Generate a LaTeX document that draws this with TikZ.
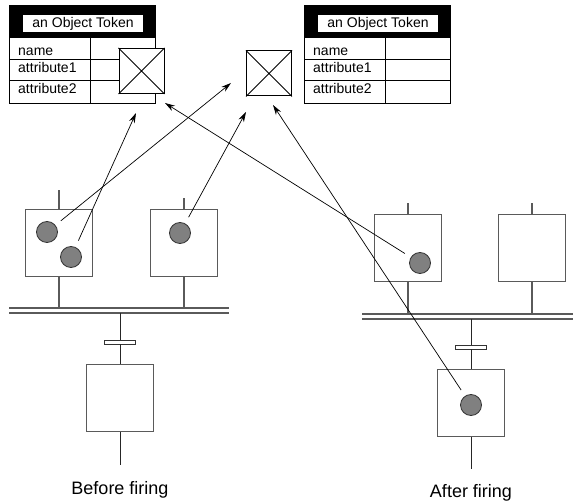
\documentclass[tikz,border=0pt]{standalone}
\usepackage{fontspec}
\setmainfont{Liberation Sans}
\usepackage{tikz}
\usepackage{xcolor}
\usetikzlibrary{arrows.meta}
\definecolor{netgray}{RGB}{90,90,90}
\definecolor{tokgray}{RGB}{128,128,128}

\begin{document}
\begin{tikzpicture}[x=1pt,y=-1pt,>=Stealth,
  place/.style={draw=netgray,line width=1.1pt,fill=white,minimum width=67pt,minimum height=67pt,inner sep=0pt},
  token/.style={circle,draw=black!80,line width=0.8pt,fill=tokgray,minimum size=21pt,inner sep=0pt},
  trans/.style={draw=black!80,line width=0.8pt,fill=white,minimum width=31pt,minimum height=4pt,inner sep=0pt},
  arc/.style={draw=netgray,line width=1.1pt},
  tarc/.style={draw=black!85,line width=0.9pt},
  xbox/.style={draw,line width=1pt,fill=white,minimum size=45pt,inner sep=0pt},
  ptr/.style={-{Stealth[length=10pt,width=6pt]},line width=0.7pt,shorten <=7pt},
  field/.style={anchor=base west,font=\fontsize{14}{16}\selectfont,inner sep=0pt},
  caption/.style={anchor=base,font=\fontsize{18}{20}\selectfont,inner sep=0pt}]
\useasboundingbox (0,0) rectangle (573,502);
\foreach \t/\x in {A/9,B/304}{
  \node[draw,fill=black,line width=1pt,minimum width=146pt,minimum height=32pt,inner sep=0pt,anchor=north west] (head\t) at (\x,5) {};
  \node[fill=white,minimum width=120pt,minimum height=17pt,inner sep=0pt,font=\fontsize{14}{16}\selectfont] (title\t) at (\x+74,23.5) {an Object Token};
  \node[draw,line width=1pt,minimum width=146pt,minimum height=66pt,inner sep=0pt,anchor=north west] (body\t) at (\x,37) {};
  \draw[line width=1pt] (\x,60)--++(146,0) (\x,81)--++(146,0) (\x+81,37)--(\x+81,103);
  \node[field] (name\t) at (\x+9,56) {name};
  \node[field] (atta\t) at (\x+9,73) {attribute1};
  \node[field] (attb\t) at (\x+9,94) {attribute2};
}
\node[xbox] (objA) at (141.5,71) {};
\node[xbox] (objB) at (269,73.5) {};
\draw[line width=0.8pt] (objA.north west)--(objA.south east) (objA.north east)--(objA.south west)
  (objB.north west)--(objB.south east) (objB.north east)--(objB.south west);
\node[place] (pA1) at (59,243) {};
\node[place] (pA2) at (184,243) {};
\node[trans] (tA) at (120,342) {};
\node[place] (pA3) at (120,398) {};
\coordinate (inA1) at (59,190);
\coordinate (inA2) at (184,198);
\coordinate (barA) at (9,308);
\coordinate (barAlow) at (9,313);
\coordinate (outA) at (120,465);
\draw[arc] (9,308)--(229,308) (9,313)--(229,313);
\draw[arc] (pA1)--(inA1) (pA2)--(inA2) (pA1.south)--(pA1.south |- barA) (pA2.south)--(pA2.south |- barA);
\draw[tarc] (tA)--(tA |- barAlow) (tA)--(pA3) (pA3)--(outA);
\node[place] (pB1) at (408,248) {};
\node[place] (pB2) at (532,248) {};
\node[trans] (tB) at (471,347) {};
\node[place] (pB3) at (471,403) {};
\coordinate (inB1) at (408,203);
\coordinate (inB2) at (532,203);
\coordinate (barB) at (362,314);
\coordinate (barBlow) at (362,319);
\coordinate (outB) at (471,469);
\draw[arc] (362,314)--(573,314) (362,319)--(573,319);
\draw[arc] (pB1)--(inB1) (pB2)--(inB2) (pB1.south)--(pB1.south |- barB) (pB2.south)--(pB2.south |- barB);
\draw[tarc] (tB)--(tB |- barBlow) (tB)--(pB3) (pB3)--(outB);
\node[token] (kA1) at (47,232) {};
\node[token] (kA2) at (71,257) {};
\node[token] (kA3) at (180,233) {};
\node[token] (kB1) at (420,263) {};
\node[token] (kB3) at (471,405) {};
\node[caption] (capA) at (120,494) {Before firing};
\node[caption] (capB) at (471,497) {After firing};
\coordinate (tip1) at (231,83);
\coordinate (tip2) at (136,113);
\coordinate (tip3) at (246,112);
\coordinate (tip4) at (165,103);
\coordinate (tip5) at (273,105);
\draw[ptr] (kA1)--(tip1);
\draw[ptr] (kA2)--(tip2);
\draw[ptr] (kA3)--(tip3);
\draw[ptr] (kB1)--(tip4);
\draw[ptr] (kB3)--(tip5);
\end{tikzpicture}
\end{document}
